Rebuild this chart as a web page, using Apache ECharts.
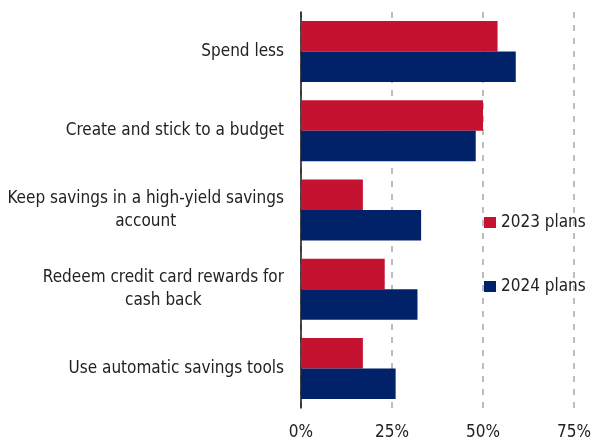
<!DOCTYPE html>
<html>
<head>
<meta charset="utf-8">
<script src="https://cdn.jsdelivr.net/npm/echarts@6/dist/echarts.min.js"></script>
<style>
  html, body { margin: 0; padding: 0; background: #fff; }
  #chart { width: 592px; height: 442px; }
</style>
</head>
<body>
<div id="chart"></div>
<script>
// Savings strategies, share of respondents (%)
const categories = [
  'Spend less',
  'Create and stick to a budget',
  'Keep savings in a high-yield savings\naccount',
  'Redeem credit card rewards for\ncash back',
  'Use automatic savings tools'
];
const plans2023 = [54, 50, 17, 23, 17];
const plans2024 = [59, 48, 33, 32, 26];
const seriesNames = ['2023 plans', '2024 plans'];

const FONT = '"DejaVu Sans Condensed", "Liberation Sans Narrow", "Liberation Sans", sans-serif';
const TEXT = '#222222';
const RED = '#C41230';
const NAVY = '#012169';
const FS = 17;

const chart = echarts.init(document.getElementById('chart'), null, { renderer: 'canvas' });

chart.setOption({
  animation: false,
  backgroundColor: '#ffffff',
  grid: {
    left: 301, right: 18, top: 12, bottom: 34,
    containLabel: false,
    outerBoundsMode: 'none'
  },
  legend: {
    data: seriesNames,
    orient: 'vertical',
    left: 484,
    top: 214,
    padding: 0,
    itemWidth: 12,
    itemHeight: 11,
    itemGap: 47,
    icon: 'rect',
    textStyle: { fontFamily: FONT, fontSize: FS, color: TEXT }
  },
  xAxis: {
    type: 'value',
    min: 0,
    max: 75,
    interval: 25,
    axisLine: { show: false },
    axisTick: { show: false },
    axisLabel: {
      formatter: '{value}%',
      fontFamily: FONT,
      fontSize: FS,
      color: TEXT,
      margin: 16
    },
    splitLine: {
      show: true,
      lineStyle: { color: '#bdbdbd', width: 2, type: [6, 7] }
    }
  },
  yAxis: {
    type: 'category',
    data: categories,
    inverse: true,
    axisLine: { show: true, lineStyle: { color: '#111111', width: 1.5 } },
    axisTick: { show: false },
    axisLabel: {
      margin: 17,
      align: 'right',
      formatter: function (v) {
        return v.split('\n').map(function (s) { return '{c|' + s + '}'; }).join('\n');
      },
      rich: {
        c: { align: 'center', fontFamily: FONT, fontSize: FS, color: TEXT, lineHeight: 23 }
      }
    },
    splitLine: { show: false }
  },
  series: [
    {
      name: seriesNames[0],
      type: 'bar',
      data: plans2023,
      itemStyle: { color: RED },
      barGap: '0%',
      barCategoryGap: '23%'
    },
    {
      name: seriesNames[1],
      type: 'bar',
      data: plans2024,
      itemStyle: { color: NAVY },
      barGap: '0%',
      barCategoryGap: '23%'
    }
  ]
});
</script>
</body>
</html>
